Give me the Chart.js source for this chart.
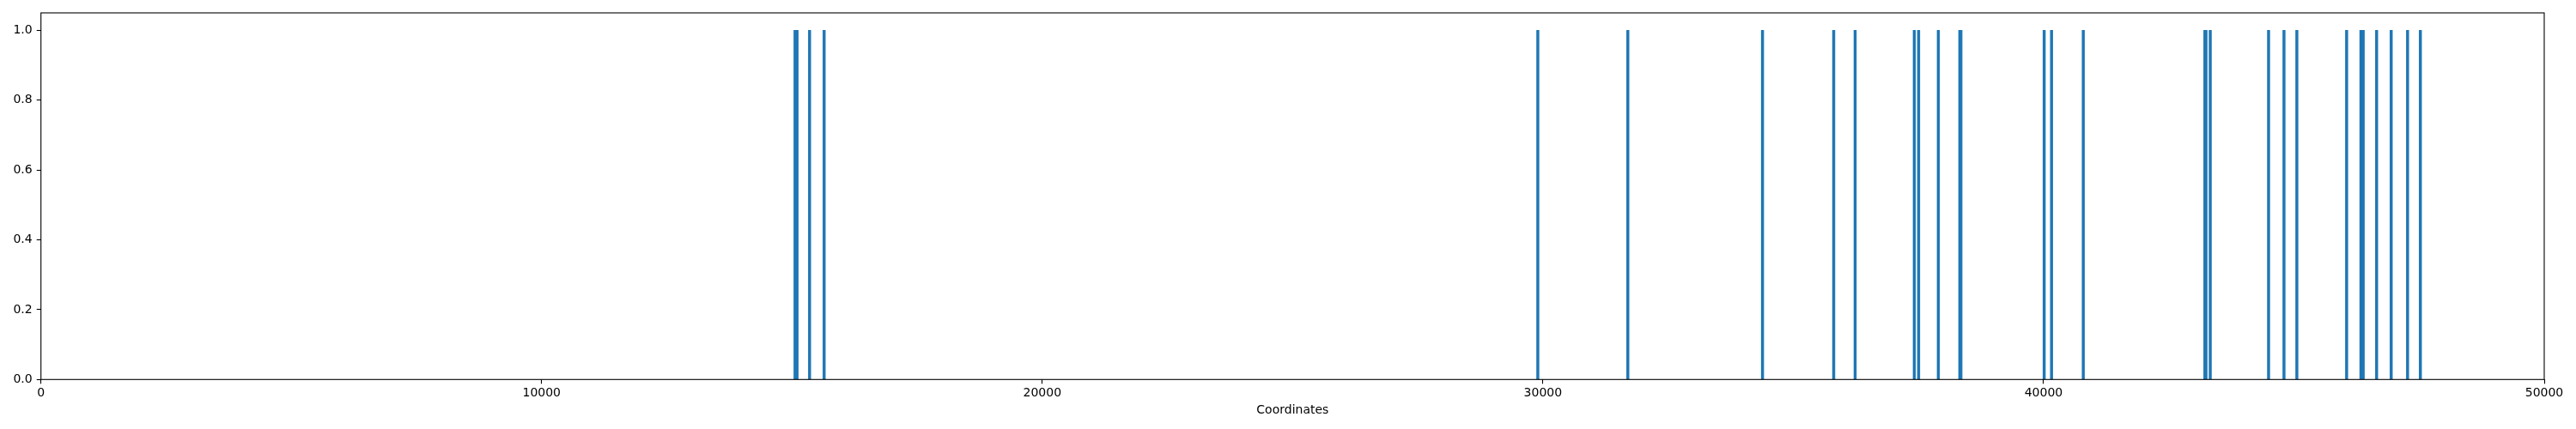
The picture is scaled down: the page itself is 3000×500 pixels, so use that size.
<!DOCTYPE html>
<html>
<head>
<meta charset="utf-8">
<script src="https://cdn.jsdelivr.net/npm/chart.js@4/dist/chart.umd.min.js"></script>
<style>
  html, body { margin: 0; padding: 0; background: #fff; }
  #wrap { width: 3000px; height: 500px; position: relative; }
</style>
</head>
<body>
<div id="wrap"><canvas id="chart"></canvas></div>
<script>
// positions of the hits along the sequence
const coords = [
    15062, 15102, 15352, 15643,
    29898, 31696,
    34386, 35808, 36236, 37418, 37504, 37898, 38327, 38349,
    40012, 40159, 40793,
    43222, 43244, 43329, 44494, 44802, 45059,
    46053, 46339, 46384, 46652, 46943, 47270, 47526
];
const heights = coords.map(() => 1);

const xTicks = [0, 10000, 20000, 30000, 40000, 50000];
const yTicks = [0, 0.2, 0.4, 0.6, 0.8, 1.0];
const xLabel = "Coordinates";

const points = coords.map((c, i) => ({ x: c, y: heights[i] }));

// matplotlib draws a box round the axes
const frame = {
    id: "frame",
    afterDatasetsDraw(chart) {
        const a = chart.chartArea;
        const ctx = chart.ctx;
        ctx.save();
        ctx.strokeStyle = "#000";
        ctx.lineWidth = 1.1;
        ctx.strokeRect(a.left, a.top, a.right - a.left, a.bottom - a.top);
        ctx.restore();
    }
};

const font = { family: "DejaVu Sans", size: 14 };

new Chart(document.getElementById("chart"), {
    type: "bar",
    data: {
        datasets: [{
            data: points,
            backgroundColor: "#1f77b4",
            borderWidth: 0,
            barThickness: 2.8
        }]
    },
    options: {
        responsive: true,
        maintainAspectRatio: false,
        animation: false,
        devicePixelRatio: 1,
        layout: { padding: { left: 0, right: 37, top: 15, bottom: 0 } },
        plugins: {
            legend: { display: false },
            tooltip: { enabled: false }
        },
        scales: {
            x: {
                type: "linear",
                offset: false,
                min: 0,
                max: 50000,
                afterBuildTicks: scale => { scale.ticks = xTicks.map(v => ({ value: v })); },
                afterFit: scale => { scale.height = 57.7; },
                ticks: {
                    color: "#000",
                    font: font,
                    padding: 3,
                    maxRotation: 0,
                    autoSkip: false,
                    callback: v => String(v)
                },
                grid: {
                    offset: false,
                    drawOnChartArea: false,
                    drawTicks: true,
                    tickLength: 5,
                    tickColor: "#000",
                    tickWidth: 1.1
                },
                border: { display: false },
                title: {
                    display: true,
                    text: xLabel,
                    color: "#000",
                    font: font,
                    padding: { top: 4, bottom: 13 }
                }
            },
            y: {
                min: 0,
                max: 1.05,
                afterBuildTicks: scale => { scale.ticks = yTicks.map(v => ({ value: v })); },
                afterFit: scale => { scale.width = 47.7; },
                ticks: {
                    color: "#000",
                    font: font,
                    padding: 5,
                    autoSkip: false,
                    callback: v => Number(v).toFixed(1)
                },
                grid: {
                    drawOnChartArea: false,
                    drawTicks: true,
                    tickLength: 5,
                    tickColor: "#000",
                    tickWidth: 1.1
                },
                border: { display: false }
            }
        }
    },
    plugins: [frame]
});
</script>
</body>
</html>
